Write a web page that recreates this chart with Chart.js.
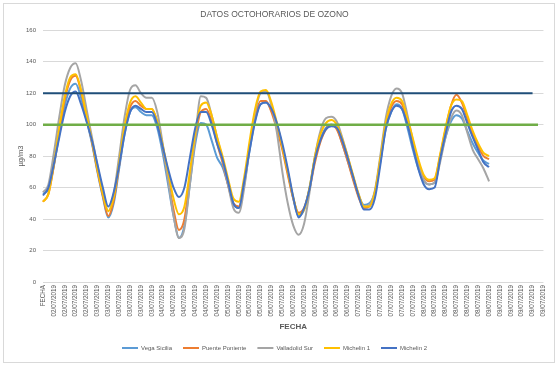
<!DOCTYPE html>
<html><head><meta charset="utf-8">
<script src="https://cdn.jsdelivr.net/npm/chart.js@4/dist/chart.umd.min.js"></script>
<style>
html,body{margin:0;padding:0;background:#fff;}
#frame{position:absolute;left:3px;top:3px;width:550px;height:358px;border:1px solid #d9d9d9;}
canvas{display:block;}
</style></head><body>
<div id="frame"><canvas id="c" width="550" height="358"></canvas></div>
<script>
// Category axis: first category is the header "FECHA", then 2-hour slots per day
const firstCategory = 'FECHA';
const days = ['02/07/2019','03/07/2019','04/07/2019','05/07/2019','06/07/2019','07/07/2019','08/07/2019','09/07/2019'];
const slotsPerDay = [9,12,12,12,12,12,12,11];
const labelStep = 2;

const categories = [firstCategory];
days.forEach((d, k) => { for (let s = 0; s < slotsPerDay[k]; s++) categories.push(d); });

const seriesNames = ['Vega Sicilia','Puente Poniente','Valladolid Sur','Michelin 1','Michelin 2'];

const vegaSicilia = [56,59,74,94,112,123,126,117,103,88,70,54,41,50,72,94,108,111,108,106,106,98,82,62,42,28,36,62,88,101,100,90,79,73,62,50,47,62,84,103,113,114,109,100,86,70,53,42,46,60,79,91,98,100,98,88,77,66,55,49,50,57,76,97,108,113,110,98,84,72,64,62,63,78,92,102,106,104,96,88,82,77,75];
const puentePoniente = [51,56,74,96,116,128,131,121,105,89,71,55,42,52,74,97,111,115,112,110,110,102,86,66,46,33,40,66,92,108,110,102,88,76,62,50,48,63,86,105,115,115,108,97,84,68,53,44,47,59,76,89,97,100,97,88,77,65,54,47,48,56,77,99,111,115,113,102,88,76,67,64,65,80,97,112,119,114,104,94,86,80,78];
const valladolidSur = [57,62,82,105,125,136,139,128,110,92,74,57,45,56,80,105,122,125,120,117,117,108,88,65,42,28,34,62,92,118,117,106,92,78,62,47,44,60,86,108,120,121,112,95,70,50,36,30,37,57,80,96,104,105,102,92,80,67,56,48,49,58,80,104,118,123,120,106,90,75,65,62,63,76,92,104,109,106,95,84,78,72,64];
const michelin1 = [51,56,75,98,118,130,132,122,106,90,72,56,45,54,76,99,114,118,114,110,110,102,87,70,53,43,48,70,95,112,114,106,92,80,66,53,51,67,90,110,121,122,114,101,86,70,54,43,46,60,80,94,101,103,100,91,80,68,56,48,48,57,78,101,113,117,115,104,91,78,68,65,66,81,98,112,116,115,106,96,88,82,80];
const michelin2 = [55,60,75,92,108,118,121,113,102,90,75,60,48,57,74,94,108,112,110,108,108,100,86,72,60,54,60,79,98,108,108,100,88,78,64,50,47,64,84,102,113,114,110,101,88,72,54,41,47,59,78,90,97,99,98,90,79,67,55,46,46,53,74,97,108,112,110,100,86,72,62,59,60,78,94,108,112,110,101,92,84,76,73];

// Reference levels (value, last category index reached)
const limitHigh = 120, limitHighEnd = 90;
const limitLow = 100, limitLowEnd = 91;

const yTicks = {min: 0, max: 160, step: 20};

const colors = ['#5B9BD5','#ED7D31','#A5A5A5','#FFC000','#4472C4'];
const seriesData = [vegaSicilia, puentePoniente, valladolidSur, michelin1, michelin2];

const datasets = seriesData.map((d, i) => ({
  label: seriesNames[i],
  data: d,
  borderColor: colors[i],
  backgroundColor: colors[i],
  borderWidth: 2,
  pointRadius: 0,
  cubicInterpolationMode: 'monotone',
  fill: false,
  order: seriesData.length - i
}));
datasets.push({label: '_limit120', data: Array(limitHighEnd + 1).fill(limitHigh), borderColor: '#1F4E79', borderWidth: 2, pointRadius: 0, order: -1});
datasets.push({label: '_limit100', data: Array(limitLowEnd + 1).fill(limitLow), borderColor: '#70AD47', borderWidth: 2.5, pointRadius: 0, order: -2});

const txt = '#595959';
new Chart(document.getElementById('c'), {
  type: 'line',
  data: {labels: categories, datasets},
  options: {
    responsive: false,
    animation: false,
    layout: {padding: {left: 0, right: 9, top: 0, bottom: 1}},
    plugins: {
      title: {display: true, text: 'DATOS OCTOHORARIOS DE OZONO', color: txt,
        font: {family: 'Liberation Sans', size: 8.5, weight: 'normal'}, padding: {top: 6, bottom: 10}},
      legend: {position: 'bottom',
        labels: {
          color: txt, font: {family: 'Liberation Sans', size: 6}, boxWidth: 16, boxHeight: 2, padding: 11,
          filter: item => !item.text.startsWith('_'),
          sort: (a, b) => a.datasetIndex - b.datasetIndex,
          generateLabels: chart => Chart.defaults.plugins.legend.labels.generateLabels(chart).map(l => Object.assign(l, {lineWidth: 0, fillStyle: l.strokeStyle}))
        }},
      tooltip: {enabled: false}
    },
    scales: {
      x: {
        grid: {display: false, drawTicks: false}, border: {display: false},
        ticks: {autoSkip: false, maxRotation: 90, minRotation: 90, padding: 3, color: txt,
          font: {family: 'Liberation Sans', size: 6.3},
          callback: function(v, i) { return i % labelStep === 0 ? categories[i] : ''; }},
        title: {display: true, text: 'FECHA', color: txt, font: {family: 'Liberation Sans', size: 8, weight: 'bold'}, padding: {top: 0, bottom: 2}},
        afterFit: s => { s.height = 52; }
      },
      y: {
        min: yTicks.min, max: yTicks.max,
        grid: {color: '#d9d9d9', drawTicks: false}, border: {display: false},
        ticks: {stepSize: yTicks.step, padding: 7, color: txt, font: {family: 'Liberation Sans', size: 6}},
        title: {display: true, text: 'µg/m3', color: txt, font: {family: 'Liberation Sans', size: 7.5}, padding: {top: 12, bottom: 0}},
        afterFit: s => { s.width = 39; }
      }
    }
  }
});
</script>
</body></html>
